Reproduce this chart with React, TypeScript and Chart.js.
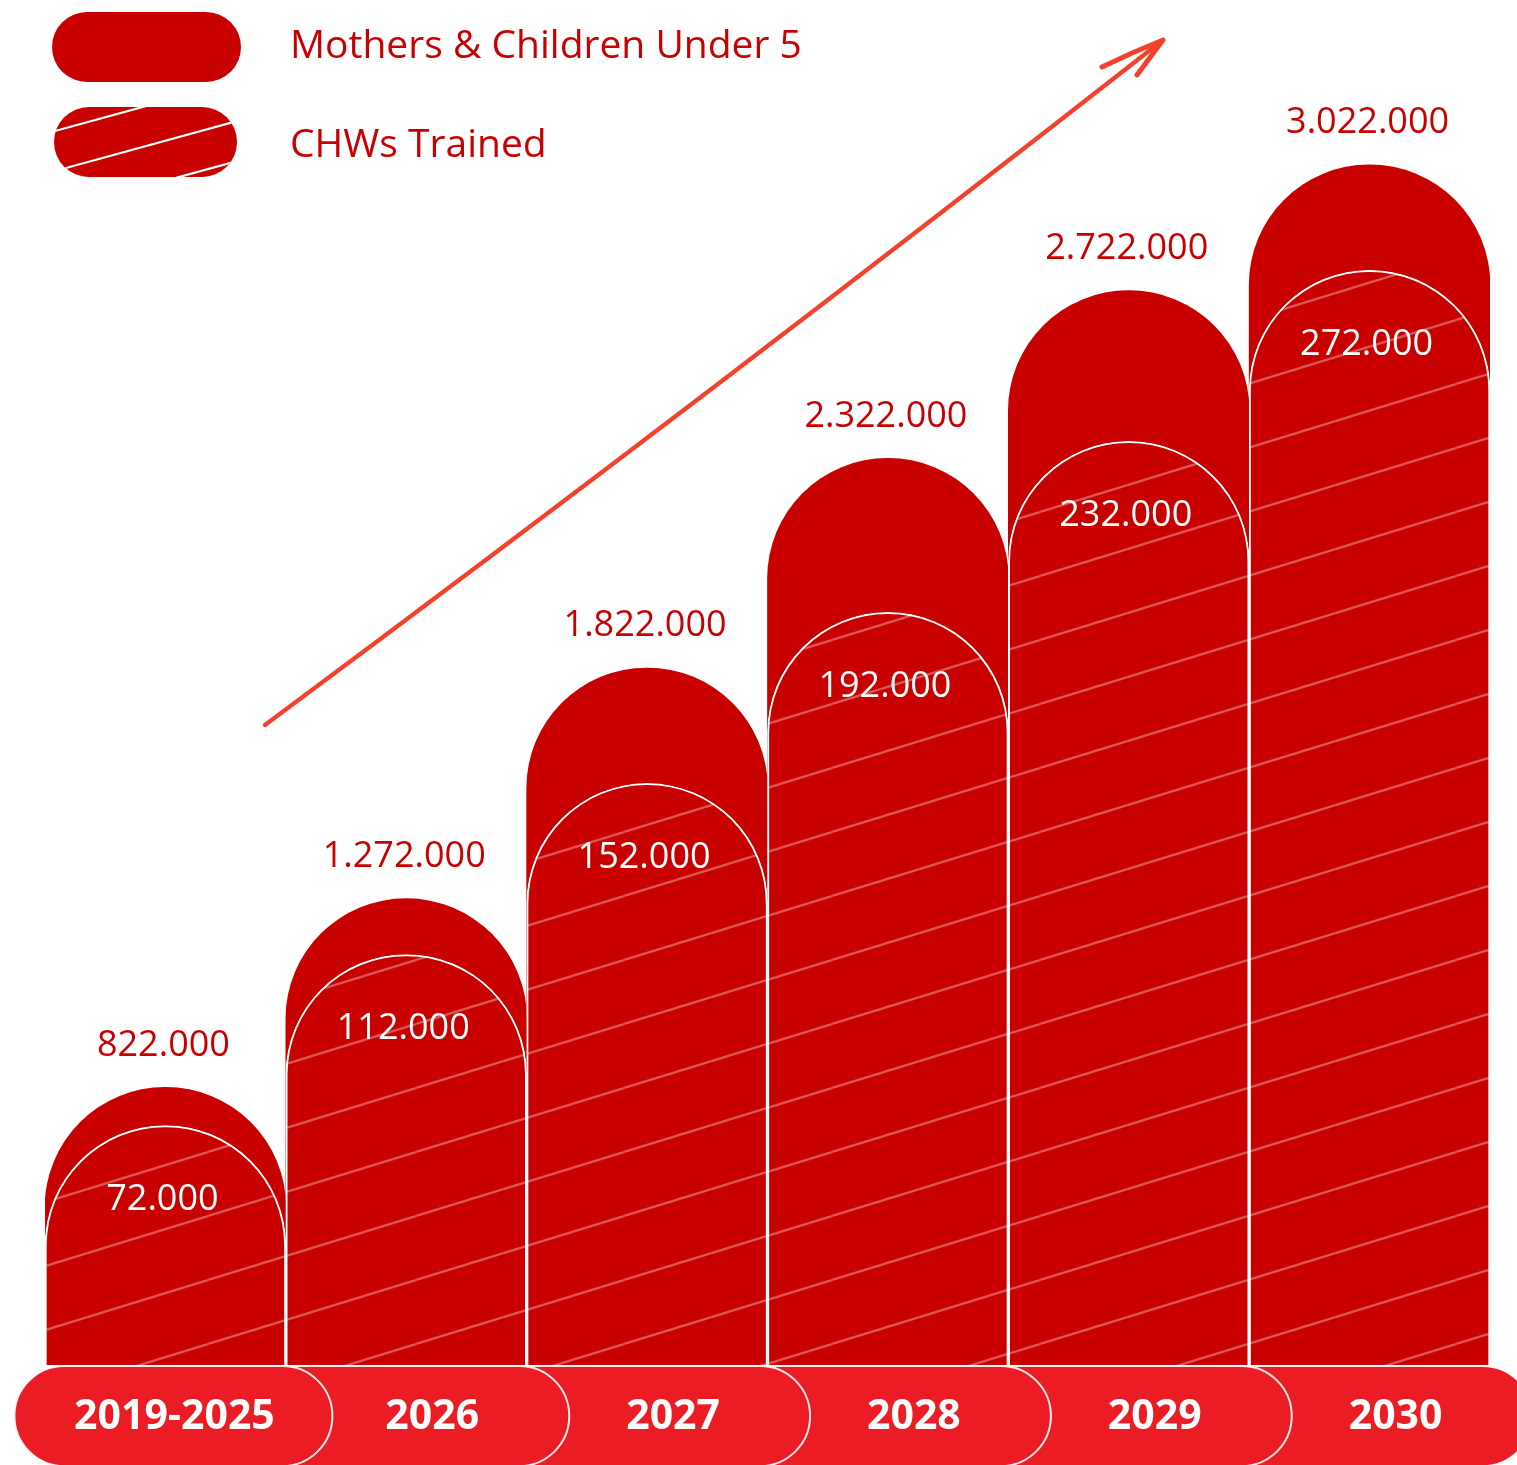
import React, { useEffect, useRef } from "react";
import { Chart, registerables } from "chart.js";

Chart.register(...registerables);

// ---- data ----
const categories = ["2019-2025", "2026", "2027", "2028", "2029", "2030"];
const seriesLabels = ["Mothers & Children Under 5", "CHWs Trained"];
const mothersChildren = [822000, 1272000, 1822000, 2322000, 2722000, 3022000];
const chwsTrained = [72000, 112000, 152000, 192000, 232000, 272000];

// ---- styles ----
const DARK_RED = "#c80000";
const PILL_RED = "#ec1c24";
const ARROW = "#f4412b";
const FONT = '"Open Sans", "Noto Sans", sans-serif';

const fmt = (n: number) => String(n).replace(/\B(?=(\d{3})+(?!\d))/g, ".");

function makeHatch(): CanvasPattern | string {
  const W = 208;
  const H = 64;
  const c = document.createElement("canvas");
  c.width = W;
  c.height = H;
  const g = c.getContext("2d");
  if (!g) return DARK_RED;
  g.fillStyle = DARK_RED;
  g.fillRect(0, 0, W, H);
  g.strokeStyle = "rgba(255,255,255,0.34)";
  g.lineWidth = 2.3;
  for (let k = -1; k <= 1; k++) {
    g.beginPath();
    g.moveTo(0, H + k * H);
    g.lineTo(W, k * H);
    g.stroke();
  }
  const p = g.createPattern(c, "repeat");
  return p || DARK_RED;
}

const overlayPlugin = {
  id: "overlay",
  afterDatasetsDraw(chart: any) {
    const ctx: CanvasRenderingContext2D = chart.ctx;
    const area = chart.chartArea;
    const back = chart.getDatasetMeta(0);
    const front = chart.getDatasetMeta(1);
    ctx.save();
    // value labels
    ctx.font = `36px ${FONT}`;
    ctx.textAlign = "center";
    ctx.textBaseline = "middle";
    back.data.forEach((el: any, i: number) => {
      ctx.fillStyle = DARK_RED;
      ctx.fillText(fmt(mothersChildren[i]), el.x - 2, el.y - 42);
    });
    front.data.forEach((el: any, i: number) => {
      ctx.fillStyle = "#ffffff";
      ctx.fillText(fmt(chwsTrained[i]), el.x - 3, el.y + 74);
    });

    // category pills
    const xs = chart.scales.x;
    const top = area.bottom + 1;
    const ph = 100;
    const r = ph / 2;
    const centers = categories.map((_, i) => xs.getPixelForValue(i));
    const rights = centers.map((c, i) => c + (i === 0 ? 167 : 163));
    const lefts = centers.map((c, i) => (i === 0 ? c - 151 : centers[i - 1] + 60));
    for (let i = categories.length - 1; i >= 0; i--) {
      const l = lefts[i];
      const rr = rights[i];
      ctx.beginPath();
      ctx.moveTo(l + r, top);
      ctx.lineTo(rr - r, top);
      ctx.arc(rr - r, top + r, r, -Math.PI / 2, Math.PI / 2);
      ctx.lineTo(l + r, top + ph);
      ctx.arc(l + r, top + r, r, Math.PI / 2, (3 * Math.PI) / 2);
      ctx.closePath();
      ctx.fillStyle = PILL_RED;
      ctx.fill();
      ctx.strokeStyle = "rgba(255,255,255,0.9)";
      ctx.lineWidth = 2;
      ctx.stroke();
    }
    ctx.font = `bold 41px ${FONT}`;
    ctx.fillStyle = "#ffffff";
    categories.forEach((lab, i) => {
      const tx = i === 0 ? (lefts[0] + rights[0]) / 2 + 1 : centers[i] + 26;
      ctx.fillText(lab, tx, top + 51);
    });

    // hand-drawn style trend arrow
    const sx = area.left + 220;
    const sy = area.top + 660;
    const ex = area.left + 1118;
    const ey = area.top - 25;
    ctx.strokeStyle = ARROW;
    ctx.lineWidth = 4.2;
    ctx.lineCap = "round";
    ctx.lineJoin = "round";
    ctx.beginPath();
    ctx.moveTo(sx, sy);
    ctx.quadraticCurveTo((sx + ex) / 2 + 4, (sy + ey) / 2 + 6, ex, ey);
    ctx.stroke();
    ctx.lineWidth = 5;
    ctx.beginPath();
    ctx.moveTo(ex - 61, ey + 27);
    ctx.quadraticCurveTo(ex - 30, ey + 12, ex, ey);
    ctx.lineTo(ex - 26, ey + 35);
    ctx.stroke();
    ctx.restore();
  },
};

function HatchSwatch() {
  const w = 183;
  const h = 70;
  const offsets = [-16, 24, 64, 104];
  return (
    <svg width={w} height={h} style={{ display: "block" }}>
      <defs>
        <clipPath id="pillClip">
          <rect x={0} y={0} width={w} height={h} rx={35} ry={35} />
        </clipPath>
      </defs>
      <g clipPath="url(#pillClip)">
        <rect x={0} y={0} width={w} height={h} fill={DARK_RED} />
        {offsets.map((o) => (
          <line key={o} x1={0} y1={o + 0.274} x2={w} y2={o - 0.274 * (w - 1)} stroke="#ffffff" strokeWidth={2.2} />
        ))}
      </g>
    </svg>
  );
}

export default function App() {
  const ref = useRef<HTMLCanvasElement>(null);
  useEffect(() => {
    document.body.style.margin = "0";
    document.body.style.overflow = "hidden";
    if (!ref.current) return;
    const hatch = makeHatch();
    const chart = new Chart(ref.current, {
      type: "bar",
      data: {
        labels: categories,
        datasets: [
          {
            label: seriesLabels[0],
            data: mothersChildren,
            yAxisID: "y",
            backgroundColor: DARK_RED,
            borderWidth: 0,
            borderRadius: 400,
            borderSkipped: "bottom",
            grouped: false,
            order: 2,
            barPercentage: 1,
            categoryPercentage: 1,
          },
          {
            label: seriesLabels[1],
            data: chwsTrained,
            yAxisID: "y1",
            backgroundColor: hatch as any,
            borderColor: "#ffffff",
            borderWidth: 2,
            borderRadius: 400,
            borderSkipped: "bottom",
            grouped: false,
            order: 1,
            barPercentage: 1,
            categoryPercentage: 1,
          },
        ],
      },
      options: {
        responsive: false,
        animation: false,
        devicePixelRatio: 1,
        layout: { padding: { left: 45, right: 27, top: 65, bottom: 100 } },
        plugins: { legend: { display: false }, tooltip: { enabled: false } },
        scales: {
          x: { display: false, offset: true, grid: { display: false } },
          y: { display: false, min: 160000, max: 3260000 },
          y1: { display: false, min: 16000, max: 320000 },
        },
      },
      plugins: [overlayPlugin],
    });
    return () => chart.destroy();
  }, []);

  const legendText: React.CSSProperties = {
    fontFamily: FONT,
    fontSize: 39,
    color: DARK_RED,
    lineHeight: "70px",
    whiteSpace: "nowrap",
  };

  return (
    <div style={{ position: "relative", width: 1517, height: 1465, overflow: "hidden" }}>
      <canvas ref={ref} width={1517} height={1465} style={{ display: "block" }} />
      <div style={{ position: "absolute", left: 52, top: 12, display: "flex", alignItems: "center" }}>
        <div style={{ width: 189, height: 70, borderRadius: 35, background: DARK_RED }} />
        <div style={{ ...legendText, marginLeft: 49, position: "relative", top: -4 }}>{seriesLabels[0]}</div>
      </div>
      <div style={{ position: "absolute", left: 54, top: 107, display: "flex", alignItems: "center" }}>
        <HatchSwatch />
        <div style={{ ...legendText, marginLeft: 53 }}>{seriesLabels[1]}</div>
      </div>
    </div>
  );
}
